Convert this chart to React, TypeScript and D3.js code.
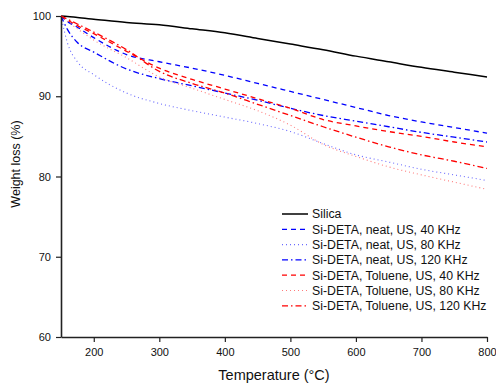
import React, { useEffect, useRef } from 'react';
import * as d3 from 'd3';

const temps = [150, 160, 175, 200, 250, 300, 350, 400, 450, 500, 550, 600, 650, 700, 750, 800];

const silica = [100, 99.95, 99.8, 99.6, 99.2, 98.9, 98.4, 97.9, 97.2, 96.5, 95.8, 95.0, 94.3, 93.6, 93.0, 92.4];
const neat40 = [100, 99.3, 98.6, 97.3, 95.2, 94.3, 93.5, 92.6, 91.6, 90.6, 89.6, 88.6, 87.6, 86.8, 86.1, 85.4];
const neat80 = [100, 96.6, 94.3, 92.7, 90.4, 89.1, 88.2, 87.4, 86.6, 85.6, 84.1, 82.7, 81.8, 80.9, 80.2, 79.5];
const neat120 = [100, 98.3, 96.7, 95.5, 93.4, 92.2, 91.3, 90.4, 89.5, 88.5, 87.6, 86.9, 86.2, 85.5, 84.9, 84.3];
const tol40 = [100, 99.5, 98.8, 97.8, 95.6, 93.5, 92.1, 90.9, 89.7, 88.5, 87.1, 86.3, 85.6, 85.0, 84.3, 83.7];
const tol80 = [100, 99.3, 98.4, 97.0, 94.8, 92.4, 91.0, 89.6, 88.2, 86.4, 84.0, 82.5, 81.2, 80.2, 79.3, 78.4];
const tol120 = [100, 99.6, 99.0, 98.0, 95.8, 93.1, 91.6, 90.4, 89.0, 87.6, 86.2, 84.9, 83.7, 82.7, 81.9, 81.0];

const seriesNames = [
  'Silica',
  'Si-DETA, neat, US, 40 KHz',
  'Si-DETA, neat, US, 80 KHz',
  'Si-DETA, neat, US, 120 KHz',
  'Si-DETA, Toluene, US, 40 KHz',
  'Si-DETA, Toluene, US, 80 KHz',
  'Si-DETA, Toluene, US, 120 KHz',
];
const seriesValues = [silica, neat40, neat80, neat120, tol40, tol80, tol120];

const styles = [
  { color: '#000000', dash: null, width: 1.5 },
  { color: '#0000ff', dash: '5,4', width: 1.3 },
  { color: '#6a6aff', dash: '1,3', width: 1.1 },
  { color: '#0000ff', dash: '6,3,1.5,3', width: 1.3 },
  { color: '#ff0000', dash: '5,4', width: 1.3 },
  { color: '#ff7a7a', dash: '1,3', width: 1.1 },
  { color: '#ff0000', dash: '6,3,1.5,3', width: 1.3 },
];

const xMajor = [200, 300, 400, 500, 600, 700, 800];
const xMinor = [250, 350, 450, 550, 650, 750];
const yMajor = [60, 70, 80, 90, 100];
const yMinor = [65, 75, 85, 95];

const W = 496;
const H = 384;

const App = () => {
  const svgRef = useRef<SVGSVGElement>(null);

  useEffect(() => {
    const svg = d3.select(svgRef.current);
    svg.selectAll('*').remove();

    const margin = { top: 16, right: 9, bottom: 47, left: 61 };
    const x = d3.scaleLinear().domain([150, 800]).range([margin.left, W - margin.right]);
    const y = d3.scaleLinear().domain([60, 100]).range([H - margin.bottom, margin.top]);
    const font = 'Arial, "Liberation Sans", sans-serif';

    // curves
    const line = d3
      .line<[number, number]>()
      .x((d) => x(d[0]))
      .y((d) => y(d[1]))
      .curve(d3.curveMonotoneX);

    seriesValues.forEach((vals, i) => {
      const pts = temps.map((t, j) => [t, vals[j]] as [number, number]);
      const st = styles[i];
      svg
        .append('path')
        .attr('d', line(pts))
        .attr('fill', 'none')
        .attr('stroke', st.color)
        .attr('stroke-width', st.width)
        .attr('stroke-dasharray', st.dash);
    });

    // axes
    const bottom = H - margin.bottom;
    const gx = svg.append('g').attr('transform', `translate(0,${bottom})`);
    gx.call(d3.axisBottom(x).tickValues(xMinor).tickSize(3).tickFormat(() => ''));
    gx.call(d3.axisBottom(x).tickValues(xMajor).tickSize(5).tickSizeOuter(0).tickPadding(6));
    const gy = svg.append('g').attr('transform', `translate(${margin.left},0)`);
    gy.call(d3.axisLeft(y).tickValues(yMinor).tickSize(3).tickFormat(() => ''));
    gy.call(d3.axisLeft(y).tickValues(yMajor).tickSize(5).tickSizeOuter(0).tickPadding(5));

    svg.selectAll('.domain').attr('stroke', '#222').attr('stroke-width', 1.6);
    svg.selectAll('.tick line').attr('stroke', '#222').attr('stroke-width', 1.2);
    svg
      .selectAll('.tick text')
      .attr('font-family', font)
      .attr('font-size', 11)
      .attr('fill', '#111');

    // axis titles
    svg
      .append('text')
      .attr('x', (margin.left + W - margin.right) / 2)
      .attr('y', 380)
      .attr('text-anchor', 'middle')
      .attr('font-family', font)
      .attr('font-size', 14.5)
      .attr('fill', '#111')
      .text('Temperature (°C)');

    svg
      .append('text')
      .attr('transform', 'translate(20,164) rotate(-90)')
      .attr('text-anchor', 'middle')
      .attr('font-family', font)
      .attr('font-size', 12.5)
      .attr('fill', '#111')
      .text('Weight loss (%)');

    // legend
    const lg = svg.append('g').attr('transform', 'translate(282,214)');
    seriesNames.forEach((name, i) => {
      const st = styles[i];
      const row = lg.append('g').attr('transform', `translate(0,${i * 15.3})`);
      row
        .append('line')
        .attr('x1', 0)
        .attr('x2', 26)
        .attr('stroke', st.color)
        .attr('stroke-width', st.width)
        .attr('stroke-dasharray', st.dash);
      row
        .append('text')
        .attr('x', 30)
        .attr('dy', '0.35em')
        .attr('font-family', font)
        .attr('font-size', 12.3)
        .attr('fill', '#111')
        .text(name);
    });
  }, []);

  return (
    <svg
      ref={svgRef}
      width={W}
      height={H}
      style={{ position: 'absolute', left: 0, top: 0, background: '#fff' }}
    />
  );
};

export default App;
